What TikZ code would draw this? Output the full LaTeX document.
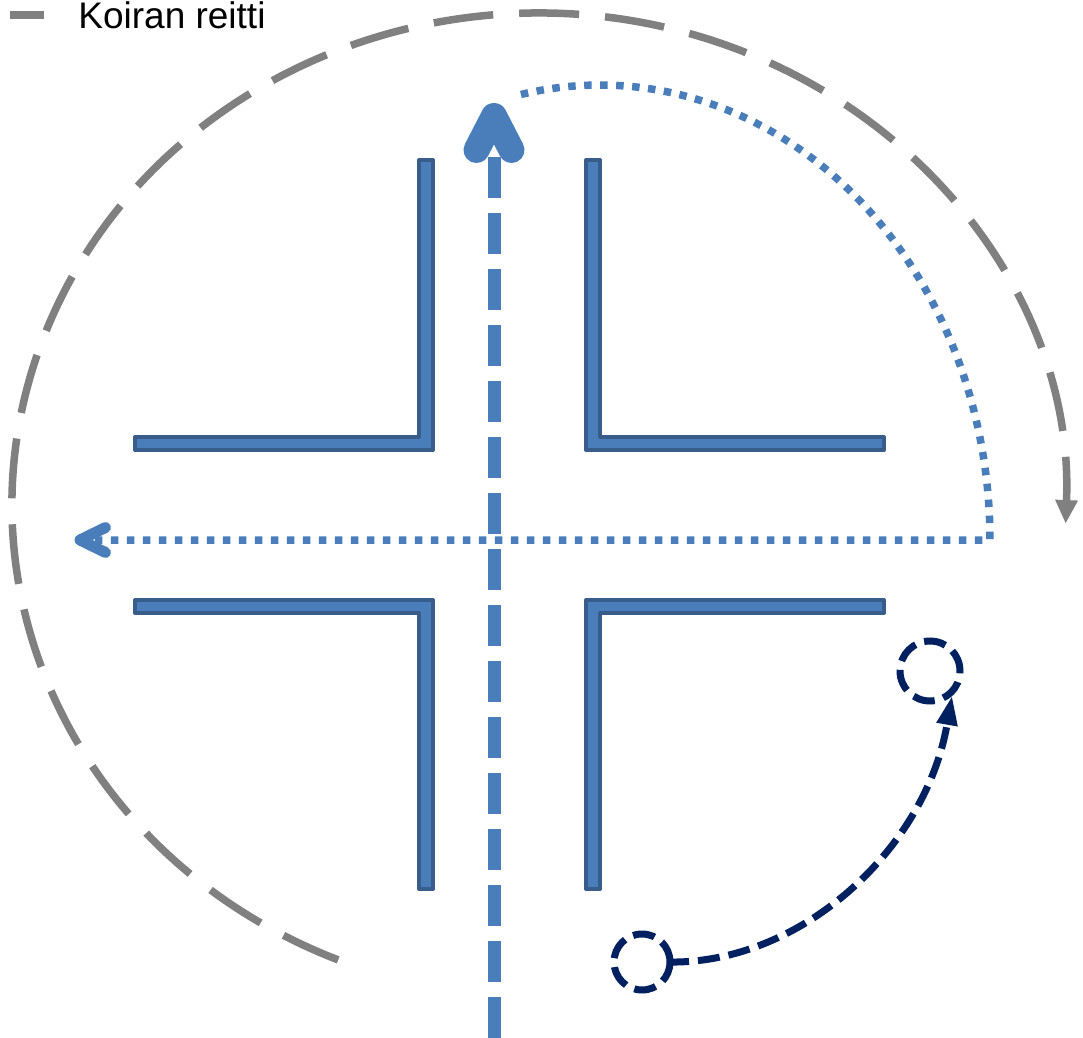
\documentclass[tikz,border=0pt]{standalone}
\usepackage{fontspec}
\setmainfont{Liberation Sans}
\usetikzlibrary{arrows.meta,calc}
\definecolor{wallfill}{HTML}{4A7EBB}
\definecolor{wallline}{HTML}{385D8A}
\definecolor{pathblue}{HTML}{4A7EBB}
\definecolor{dgray}{HTML}{808080}
\definecolor{navy}{HTML}{002060}
\begin{document}
\begin{tikzpicture}[x=0.5pt,y=-0.5pt,
  wall/.style={fill=wallfill,draw=wallline,line width=2pt,line join=round},
  dogpath/.style={draw=dgray,line width=3.75pt,dash pattern=on 30pt off 13pt},
  dashblue/.style={draw=pathblue,line width=6.5pt,dash pattern=on 20.5pt off 7.5pt},
  dotblue/.style={draw=pathblue,line width=3.75pt,dash pattern=on 3.75pt off 4.25pt},
  chevron/.style={draw=pathblue,line cap=round,line join=round},
  navyline/.style={draw=navy,line width=3.5pt,dash pattern=on 11pt off 4.5pt},
  spot/.style={circle,navyline,inner sep=0pt,outer sep=2pt}]
\useasboundingbox (0,0) rectangle (1083,1038);

% walls
\path[wall] (419,160) -- (433,160) -- (433,450) -- (135,450) -- (135,437) -- (419,437) -- cycle;
\path[wall] (586,160) -- (600,160) -- (600,437) -- (884,437) -- (884,450) -- (586,450) -- cycle;
\path[wall] (135,600) -- (433,600) -- (433,889) -- (419,889) -- (419,613) -- (135,613) -- cycle;
\path[wall] (586,600) -- (884,600) -- (884,613) -- (600,613) -- (600,889) -- (586,889) -- cycle;

% legend
\coordinate (lg1) at (10,15);
\coordinate (lg2) at (44,15);
\draw[draw=dgray,line width=3.75pt] (lg1) -- (lg2);
\node[anchor=base west,inner sep=0pt,font=\fontsize{18.5pt}{22pt}\selectfont] (legtext) at (78,28.5) {Koiran reitti};

% dog route (gray dashed ellipse arc)
\coordinate (gstart) at (338.2,959.9);
\draw[dogpath,-{Triangle[length=11.5pt,width=11.5pt,line width=0pt]}] (gstart)
  arc[start angle=112.4,end angle=362.1,x radius=527,y radius=492];

% vertical dashed route
\coordinate (vstart) at (494,1038);
\coordinate (vend) at (494,157);
\draw[dashblue] (vstart) -- (vend);
\coordinate (vtip) at (494,116);
\draw[chevron,line width=13pt] (476.5,150) -- (vtip) -- (511.5,150);

% dotted route
\coordinate (dstart) at (520.9,94.5);
\coordinate (dcorner) at (990,540);
\coordinate (dend) at (90,540);
\draw[dotblue] (dstart) arc[start angle=258.3,end angle=360,x radius=390,y radius=455] -- (dend);
\coordinate (htip) at (80,540);
\draw[chevron,line width=5.5pt] (105.5,527.5) -- (htip) -- (105.5,552.5);

% navy spots and curve
\node[spot,minimum size=30pt] (c1) at (930,671) {};
\node[spot,minimum size=28pt] (c2) at (642,962) {};
\draw[navyline,-{Triangle[length=14pt,width=11pt,line width=0pt]}] ([xshift=-3.5pt]c2.east)
  .. controls (800,965) and (925,850) .. (c1.-50);
\end{tikzpicture}
\end{document}
